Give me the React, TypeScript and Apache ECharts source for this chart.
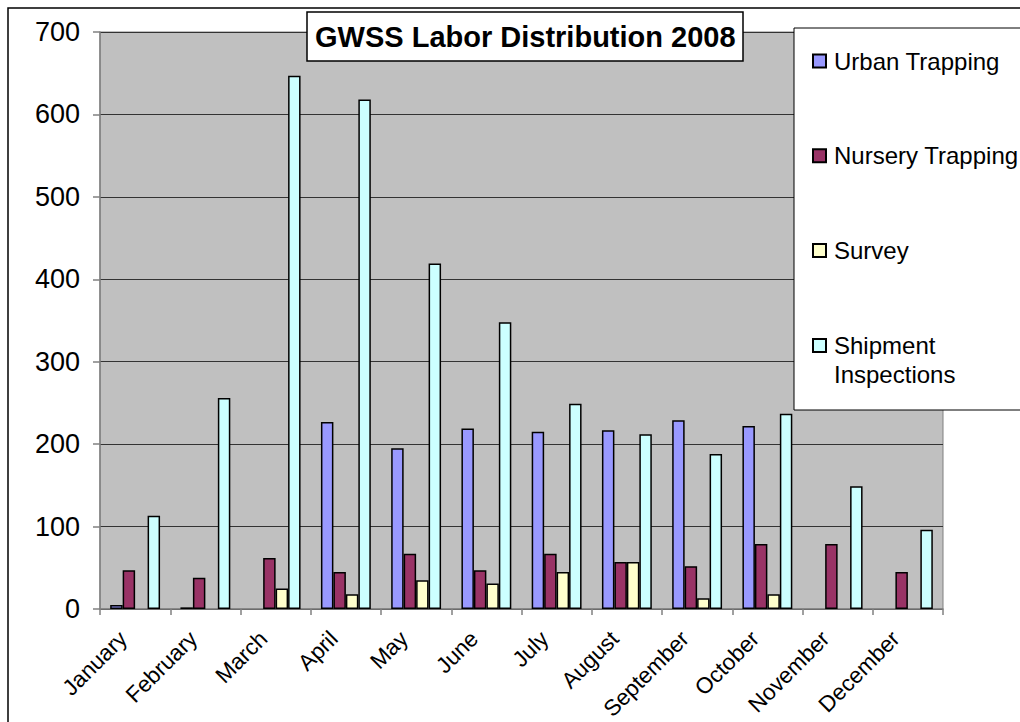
import React, { useEffect, useRef } from 'react';
import * as echarts from 'echarts';

const months = ['January', 'February', 'March', 'April', 'May', 'June', 'July', 'August', 'September', 'October', 'November', 'December'];
const seriesNames = ['Urban Trapping', 'Nursery Trapping', 'Survey', 'Shipment Inspections'];
const urbanTrapping = [5, 2, null, 227, 195, 219, 215, 217, 229, 222, null, null];
const nurseryTrapping = [47, 38, 62, 45, 67, 47, 67, 57, 52, 79, 79, 45];
const survey = [null, null, 25, 18, 35, 31, 45, 57, 13, 18, null, null];
const shipmentInspections = [113, 256, 647, 618, 419, 348, 249, 212, 188, 237, 149, 96];
const seriesColors = ['#9999FF', '#993366', '#FFFFCC', '#CCFFFF'];
const yMin = 0;
const yMax = 700;
const yInterval = 100;

const FONT = '"Liberation Sans", Arial, sans-serif';

export default function App() {
  const ref = useRef<HTMLDivElement>(null);
  useEffect(() => {
    document.body.style.margin = '0';
    if (!ref.current) return;
    const chart = echarts.init(ref.current, null, { renderer: 'svg' });
    const values = [urbanTrapping, nurseryTrapping, survey, shipmentInspections];
    chart.setOption({
      animation: false,
      backgroundColor: '#FFFFFF',
      title: {
        text: 'GWSS Labor Distribution 2008',
        left: 307,
        top: 12,
        padding: [10, 8, 10, 8],
        backgroundColor: '#FFFFFF',
        borderColor: '#000000',
        borderWidth: 1.5,
        z: 20,
        textStyle: { fontSize: 29, fontWeight: 'bold', fontFamily: FONT, color: '#000000' },
      },
      graphic: [
        {
          type: 'rect',
          silent: true,
          z: 0,
          shape: { x: 8, y: 8, width: 1100, height: 800 },
          style: { fill: 'none', stroke: '#000000', lineWidth: 1.5 },
        },
        {
          type: 'rect',
          silent: true,
          z: 10,
          shape: { x: 794, y: 28, width: 300, height: 382 },
          style: { fill: '#FFFFFF', stroke: '#000000', lineWidth: 1 },
        },
      ],
      legend: [
        {
          data: seriesNames.slice(0, 3),
          orient: 'vertical',
          left: 812,
          top: 46,
          padding: 0,
          itemGap: 64.7,
          itemWidth: 13,
          itemHeight: 13,
          icon: 'rect',
          z: 20,
          textStyle: { fontSize: 24, lineHeight: 30, fontFamily: FONT, color: '#000000', padding: [0, 0, 0, 3] },
        },
        {
          data: [seriesNames[3]],
          formatter: (n: string) => (n === 'Shipment Inspections' ? ' \nShipment\nInspections' : n),
          orient: 'vertical',
          left: 812,
          top: 302,
          padding: 0,
          itemWidth: 13,
          itemHeight: 13,
          icon: 'rect',
          z: 20,
          textStyle: { fontSize: 24, lineHeight: 29, fontFamily: FONT, color: '#000000', padding: [0, 0, 0, 3] },
        },
      ],
      grid: {
        left: 100,
        top: 32,
        right: 77,
        bottom: 113,
        outerBoundsMode: 'none',
        containLabel: false,
        show: true,
        backgroundColor: '#C0C0C0',
        borderColor: '#808080',
        borderWidth: 1,
      },
      xAxis: {
        type: 'category',
        data: months,
        axisLine: { lineStyle: { color: '#808080', width: 1.5 } },
        axisTick: { show: true, length: 6, alignWithLabel: false, lineStyle: { color: '#808080', width: 1.5 } },
        axisLabel: {
          rotate: 45,
          interval: 0,
          fontSize: 22.5,
          margin: 14,
          padding: [0, 17, 0, 0],
          color: '#000000',
          fontFamily: FONT,
        },
      },
      yAxis: {
        type: 'value',
        min: yMin,
        max: yMax,
        interval: yInterval,
        axisLine: { show: true, lineStyle: { color: '#808080', width: 1.5 } },
        axisTick: { show: true, length: 7, lineStyle: { color: '#808080', width: 1.5 } },
        splitLine: { show: true, lineStyle: { color: '#333333', width: 1 } },
        axisLabel: { fontSize: 27, margin: 20, color: '#000000', fontFamily: FONT },
      },
      series: seriesNames.map((name, i) => ({
        name,
        type: 'bar',
        data: values[i],
        barGap: '0%',
        barCategoryGap: '29%',
        itemStyle: { color: seriesColors[i], borderColor: '#000000', borderWidth: 1.5 },
      })),
    });
    return () => chart.dispose();
  }, []);
  return <div ref={ref} style={{ width: 1020, height: 722 }} />;
}
